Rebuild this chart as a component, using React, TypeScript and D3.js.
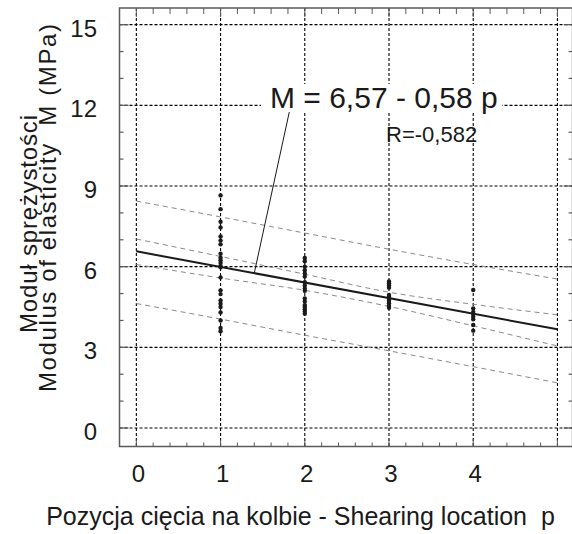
import React from "react";
import * as d3 from "d3";

// ---- data ----
const positions = [1, 2, 3, 4];
const valuesP1 = [8.65, 8.14, 7.67, 7.46, 7.12, 6.97, 6.83, 6.48, 6.33, 6.24, 6.14, 6.02, 5.98, 5.6, 5.12, 4.98, 4.74, 4.62, 4.5, 4.3, 4.0, 3.72, 3.6];
const valuesP2 = [6.32, 6.2, 6.0, 5.87, 5.75, 5.63, 5.42, 5.3, 5.19, 5.1, 4.82, 4.7, 4.57, 4.5, 4.42, 4.33, 4.25];
const valuesP3 = [5.45, 5.38, 5.3, 5.22, 4.95, 4.88, 4.8, 4.73, 4.64, 4.55, 4.47];
const valuesP4 = [5.13, 4.45, 4.32, 4.24, 4.14, 4.04, 3.83, 3.62];

const intercept = 6.57;
const slope = -0.58;
const fitRange = [0, 5];

const bandP = [0, 1, 2, 3, 4, 5];
const innerUpper = [7.03, 6.38, 5.72, 5.05, 4.6, 4.21];
const innerLower = [6.08, 5.58, 5.12, 4.52, 3.8, 3.05];
const outerUpper = [8.44, 7.85, 7.25, 6.65, 6.08, 5.54];
const outerLower = [4.63, 4.05, 3.45, 2.87, 2.28, 1.68];

const xTicks = [0, 1, 2, 3, 4, 5];
const xTickLabels = ["0", "1", "2", "3", "4"];
const yTicks = [0, 3, 6, 9, 12, 15];

const equationText = "M = 6,57 - 0,58 p";
const rText = "R=-0,582";
const leaderFrom = [1.816, 11.75];
const leaderTo = [1.4, 5.758];

const xTitle = "Pozycja cięcia na kolbie - Shearing location  p";
const yTitle1 = "Moduł sprężystości";
const yTitle2 = "Modulus of elasticity  M (MPa)";

const W = 572;
const H = 534;
const FONT = "'Liberation Sans', Arial, Helvetica, sans-serif";

export default function App() {
  const x = d3.scaleLinear().domain([-0.2, 5.18]).range([119.5, 572.6]);
  const y = d3.scaleLinear().domain([-0.688, 15.62]).range([446.5, 8]);

  const [x0, x1] = x.range();
  const [yb, yt] = y.range();

  const line = d3
    .line<[number, number]>()
    .x((d) => x(d[0]))
    .y((d) => y(d[1]))
    .curve(d3.curveMonotoneX);

  const bands = [innerUpper, innerLower, outerUpper, outerLower].map((arr) =>
    line(bandP.map((p, i) => [p, arr[i]] as [number, number]))
  );
  const fit = d3
    .line<[number, number]>()
    .x((d) => x(d[0]))
    .y((d) => y(d[1]))(fitRange.map((p) => [p, intercept + slope * p] as [number, number]));

  const series = [valuesP1, valuesP2, valuesP3, valuesP4];

  const xMinor = d3.range(-0.2, 5.2, 0.2).map((v) => Math.round(v * 10) / 10);
  const yMinor = d3.range(0, 16, 1);

  const frameColor = "#5a5a5a";

  return (
    <svg
      width={W}
      height={H}
      style={{ position: "absolute", left: 0, top: 0, background: "#fff" }}
      fontFamily={FONT}
    >
      <rect x={0} y={0} width={W} height={H} fill="#fff" />
      {/* grid */}
      {xTicks.map((t) => (
        <line key={"gx" + t} x1={x(t)} x2={x(t)} y1={yt} y2={yb} stroke="#000" strokeWidth={1.1} strokeDasharray="3,2" />
      ))}
      {yTicks.map((t) => (
        <line key={"gy" + t} x1={x0} x2={x1} y1={y(t)} y2={y(t)} stroke="#000" strokeWidth={1.1} strokeDasharray="3,2" />
      ))}
      {/* minor ticks */}
      {xMinor.map((t) => {
        const major = Math.abs(t - Math.round(t)) < 1e-6;
        const len = major ? 7 : 4;
        return (
          <g key={"mx" + t}>
            <line x1={x(t)} x2={x(t)} y1={yb} y2={yb - len} stroke={frameColor} strokeWidth={1} />
            <line x1={x(t)} x2={x(t)} y1={yt} y2={yt + len + 2} stroke={frameColor} strokeWidth={1} />
          </g>
        );
      })}
      {yMinor.map((t) => {
        const major = t % 3 === 0;
        const len = major ? 9 : 4;
        return (
          <g key={"my" + t}>
            <line x1={x0} x2={x0 + len} y1={y(t)} y2={y(t)} stroke={frameColor} strokeWidth={1.2} />
            <line x1={x1} x2={x1 - len} y1={y(t)} y2={y(t)} stroke={frameColor} strokeWidth={1.2} />
          </g>
        );
      })}
      {/* bands */}
      {bands.map((d, i) => (
        <path key={"b" + i} d={d || ""} fill="none" stroke="#8a8a8a" strokeWidth={1} strokeDasharray="5,4" />
      ))}
      {/* fit */}
      <path d={fit || ""} fill="none" stroke="#1a1a1a" strokeWidth={2} />
      {/* points */}
      {series.map((vals, i) =>
        vals.map((v, j) => (
          <circle key={"p" + i + "_" + j} cx={x(positions[i])} cy={y(v)} r={2.2} fill="#1a1a1a" />
        ))
      )}
      {/* frame */}
      <rect x={x0} y={yt} width={x1 - x0} height={yb - yt} fill="none" stroke={frameColor} strokeWidth={1.5} />
      {/* annotation */}
      <line x1={x(leaderFrom[0])} y1={y(leaderFrom[1])} x2={x(leaderTo[0])} y2={y(leaderTo[1])} stroke="#1a1a1a" strokeWidth={1} />
      <rect x={261} y={84} width={241} height={28} fill="#fff" />
      <text x={270} y={108} fontSize={30} fill="#1a1a1a">
        {equationText}
      </text>
      <text x={386} y={142} fontSize={22} fill="#1a1a1a">
        {rText}
      </text>
      {/* tick labels */}
      {yTicks.map((t) => (
        <text key={"ly" + t} x={97} y={y(t) + 12} fontSize={24} textAnchor="end" fill="#1a1a1a">
          {String(t)}
        </text>
      ))}
      {xTickLabels.map((t, i) => (
        <text key={"lx" + t} x={x(xTicks[i]) + 2} y={482} fontSize={24} textAnchor="middle" fill="#1a1a1a">
          {t}
        </text>
      ))}
      {/* titles */}
      <text x={300.5} y={525} fontSize={25} textAnchor="middle" fill="#1a1a1a" style={{ whiteSpace: "pre" }}>
        {xTitle}
      </text>
      <text
        transform="translate(37,224) rotate(-90)"
        fontSize={24}
        textAnchor="middle"
        fill="#1a1a1a"
        textLength={218}
        lengthAdjust="spacing"
      >
        {yTitle1}
      </text>
      <text
        transform="translate(56,208) rotate(-90)"
        fontSize={24}
        textAnchor="middle"
        fill="#1a1a1a"
        textLength={368}
        lengthAdjust="spacing"
        style={{ whiteSpace: "pre" }}
      >
        {yTitle2}
      </text>
    </svg>
  );
}
